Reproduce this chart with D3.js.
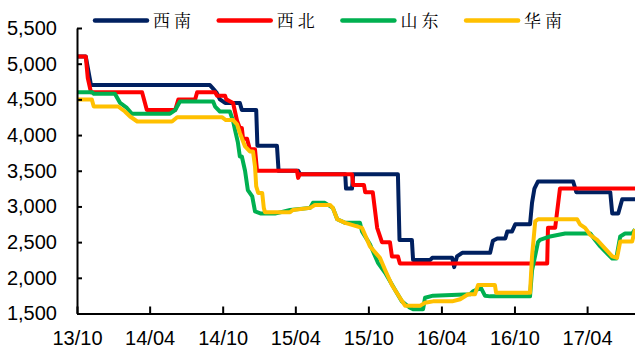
<!DOCTYPE html>
<html>
<head>
<meta charset="utf-8">
<script src="https://cdn.jsdelivr.net/npm/d3@7"></script>
<style>
  html, body { margin: 0; padding: 0; background: #fff; }
  svg { display: block; }
  .tick text { font-family: "Liberation Sans", Arial, sans-serif; font-size: 20px; fill: #000; }
  .legend text { font-family: "Noto Serif CJK SC", "Noto Sans CJK SC", serif; font-size: 17px; fill: #000; letter-spacing: 4px; }
</style>
</head>
<body>
<svg id="chart" width="635" height="351"></svg>
<script>
// Weekly price series (yuan/ton), sampled at the dates where the level changes
const seriesNames = ["西南", "西北", "山东", "华南"];
const seriesColors = ["#002060", "#FF0000", "#00B050", "#FFC000"];

const xinan = [
  ["2013-10-01",5100],["2013-10-23",5100],["2013-11-05",4700],["2014-08-30",4700],
  ["2014-09-07",4650],["2014-09-15",4600],["2014-09-24",4500],["2014-10-07",4450],
  ["2014-11-13",4450],["2014-11-18",4350],["2014-12-24",4350],["2014-12-27",3850],
  ["2015-02-14",3850],["2015-02-18",3500],["2015-04-08",3500],["2015-04-13",3450],
  ["2015-08-04",3450],["2015-08-06",3250],["2015-08-21",3250],["2015-08-24",3450],
  ["2015-12-14",3450],["2015-12-18",2530],["2016-01-18",2530],["2016-01-21",2250],
  ["2016-03-04",2250],["2016-03-09",2280],["2016-04-28",2280],["2016-05-03",2150],
  ["2016-05-10",2300],["2016-05-23",2350],["2016-08-01",2350],["2016-08-05",2450],
  ["2016-08-08",2520],["2016-08-19",2550],["2016-09-08",2550],["2016-09-13",2650],
  ["2016-09-25",2650],["2016-10-03",2750],["2016-11-09",2750],["2016-11-14",3050],
  ["2016-11-20",3250],["2016-11-29",3350],["2017-02-25",3350],["2017-03-05",3200],
  ["2017-05-29",3200],["2017-06-03",2900],["2017-06-18",2900],["2017-06-28",3100],
  ["2017-07-30",3100]
];

const xibei = [
  ["2013-10-01",5100],["2013-10-23",5100],["2013-10-28",4800],["2013-11-05",4600],
  ["2014-03-13",4600],["2014-03-25",4350],["2014-06-04",4350],["2014-06-12",4500],
  ["2014-07-24",4500],["2014-07-29",4600],["2014-09-12",4600],["2014-09-17",4550],
  ["2014-10-07",4550],["2014-10-10",4500],["2014-10-27",4450],["2014-11-06",4200],
  ["2014-11-13",4100],["2014-11-18",4100],["2014-11-21",3950],["2014-12-01",3950],
  ["2014-12-08",3800],["2014-12-21",3800],["2014-12-26",3500],["2015-04-05",3500],
  ["2015-04-08",3400],["2015-04-12",3450],["2015-08-21",3450],["2015-08-24",3300],
  ["2015-09-20",3300],["2015-09-23",3200],["2015-10-12",3200],["2015-10-23",2700],
  ["2015-11-04",2500],["2015-11-24",2500],["2015-11-29",2300],["2015-12-14",2300],
  ["2015-12-19",2200],["2016-12-22",2200],["2016-12-24",2700],["2017-01-11",2700],
  ["2017-01-23",3250],["2017-07-30",3250]
];

const shandong = [
  ["2013-10-01",4600],["2013-11-08",4600],["2013-11-12",4580],["2014-01-04",4580],
  ["2014-01-17",4450],["2014-02-03",4380],["2014-02-15",4300],["2014-05-22",4300],
  ["2014-06-04",4350],["2014-06-16",4470],["2014-09-07",4470],["2014-09-12",4400],
  ["2014-09-24",4330],["2014-10-19",4330],["2014-10-27",4200],["2014-11-01",4070],
  ["2014-11-08",3900],["2014-11-13",3700],["2014-11-18",3700],["2014-11-26",3500],
  ["2014-12-03",3230],["2014-12-14",3140],["2014-12-21",2930],["2015-01-05",2900],
  ["2015-02-09",2900],["2015-03-19",2950],["2015-05-08",2980],["2015-05-15",3050],
  ["2015-06-14",3050],["2015-07-04",2980],["2015-07-15",2820],["2015-08-04",2770],
  ["2015-09-10",2770],["2015-09-15",2650],["2015-10-05",2470],["2015-10-25",2210],
  ["2015-11-12",2070],["2015-12-07",1830],["2015-12-24",1670],["2016-01-13",1580],
  ["2016-01-21",1560],["2016-02-15",1560],["2016-02-20",1720],["2016-03-11",1750],
  ["2016-06-12",1770],["2016-06-19",1810],["2016-07-09",1860],["2016-07-19",1750],
  ["2016-08-01",1740],["2016-11-09",1740],["2016-11-14",2100],["2016-11-29",2500],
  ["2016-12-04",2530],["2016-12-29",2580],["2017-02-05",2620],["2017-04-09",2620],
  ["2017-04-21",2530],["2017-05-04",2440],["2017-05-16",2370],["2017-06-03",2270],
  ["2017-06-13",2270],["2017-06-23",2580],["2017-07-05",2620],["2017-07-23",2620],
  ["2017-07-30",2680]
];

const huanan = [
  ["2013-10-01",4500],["2013-11-07",4500],["2013-11-12",4400],["2014-01-12",4400],
  ["2014-01-29",4330],["2014-02-11",4260],["2014-03-01",4190],["2014-05-27",4190],
  ["2014-06-09",4250],["2014-09-29",4250],["2014-10-09",4210],["2014-10-27",4210],
  ["2014-11-06",4150],["2014-11-13",4030],["2014-11-26",3840],["2014-12-08",3770],
  ["2014-12-16",3770],["2014-12-21",3560],["2014-12-24",3280],["2014-12-29",3190],
  ["2015-01-08",3190],["2015-01-12",2980],["2015-01-15",2920],["2015-03-19",2920],
  ["2015-03-26",2950],["2015-05-08",2980],["2015-05-20",3020],["2015-06-27",3020],
  ["2015-07-04",2980],["2015-07-15",2820],["2015-08-04",2770],["2015-09-15",2700],
  ["2015-10-05",2440],["2015-10-30",2280],["2015-11-12",2110],["2015-11-29",1900],
  ["2015-12-19",1720],["2016-01-01",1610],["2016-02-08",1610],["2016-02-20",1650],
  ["2016-03-11",1670],["2016-04-28",1670],["2016-05-18",1700],["2016-06-07",1770],
  ["2016-06-24",1770],["2016-07-02",1900],["2016-08-13",1900],["2016-08-16",1790],
  ["2016-11-09",1790],["2016-11-14",2300],["2016-11-22",2790],["2016-11-29",2820],
  ["2017-03-07",2820],["2017-03-14",2750],["2017-03-27",2700],["2017-04-09",2600],
  ["2017-04-26",2530],["2017-05-11",2440],["2017-06-03",2300],["2017-06-15",2280],
  ["2017-06-23",2510],["2017-07-23",2510],["2017-07-30",2680]
];

const yTicks = [1500, 2000, 2500, 3000, 3500, 4000, 4500, 5000, 5500];
const xTickDates = ["2013-10-01","2014-04-01","2014-10-01","2015-04-01","2015-10-01","2016-04-01","2016-10-01","2017-04-01"];

const parse = d3.timeParse("%Y-%m-%d");
const allSeries = [xinan, xibei, shandong, huanan].map(s => s.map(([d, v]) => ({ date: parse(d), value: v })));

const svg = d3.select("#chart");
const plot = { left: 77, right: 635, top: 28, bottom: 313.5 };

const x = d3.scaleTime()
  .domain([parse("2013-10-01"), parse("2017-07-30")])
  .range([plot.left, plot.right]);
const y = d3.scaleLinear()
  .domain([1500, 5500])
  .range([plot.bottom, plot.top]);

svg.append("defs").append("clipPath").attr("id", "plot-clip")
  .append("rect").attr("x", plot.left).attr("y", 0)
  .attr("width", plot.right - plot.left).attr("height", 351);

// Price lines
const line = d3.line().x(d => x(d.date)).y(d => y(d.value));
svg.append("g").attr("clip-path", "url(#plot-clip)")
  .selectAll("path")
  .data(allSeries)
  .join("path")
  .attr("d", line)
  .attr("fill", "none")
  .attr("stroke", (d, i) => seriesColors[i])
  .attr("stroke-width", 4)
  .attr("stroke-linejoin", "round");

// Y axis (ticks point into the plot)
const yAxis = svg.append("g")
  .attr("transform", `translate(${plot.left},0)`)
  .call(d3.axisLeft(y).tickValues(yTicks).tickFormat(d3.format(",")).tickSizeInner(-5).tickSizeOuter(0).tickPadding(20));
yAxis.select(".domain").attr("stroke", "#000").attr("stroke-width", 2);
yAxis.selectAll(".tick line").attr("stroke", "#000").attr("stroke-width", 2);

// X axis (ticks point up into the plot)
const xAxis = svg.append("g")
  .attr("transform", `translate(0,${plot.bottom})`)
  .call(d3.axisBottom(x).tickValues(xTickDates.map(parse)).tickFormat(d3.timeFormat("%y/%m")).tickSizeInner(-7).tickSizeOuter(0).tickPadding(17));
xAxis.select(".domain").attr("stroke", "#000").attr("stroke-width", 2);
xAxis.selectAll(".tick line").attr("stroke", "#000").attr("stroke-width", 2);

// Legend
const legend = svg.append("g").attr("class", "legend");
const item = legend.selectAll("g")
  .data(seriesNames)
  .join("g")
  .attr("transform", (d, i) => `translate(${95 + i * 123.7},20.5)`);
item.append("line")
  .attr("x1", 0).attr("x2", 52)
  .attr("stroke", (d, i) => seriesColors[i])
  .attr("stroke-width", 4.5)
  .attr("stroke-linecap", "round");
item.append("text")
  .attr("x", 58).attr("dy", "0.36em")
  .text(d => d);
</script>
</body>
</html>
